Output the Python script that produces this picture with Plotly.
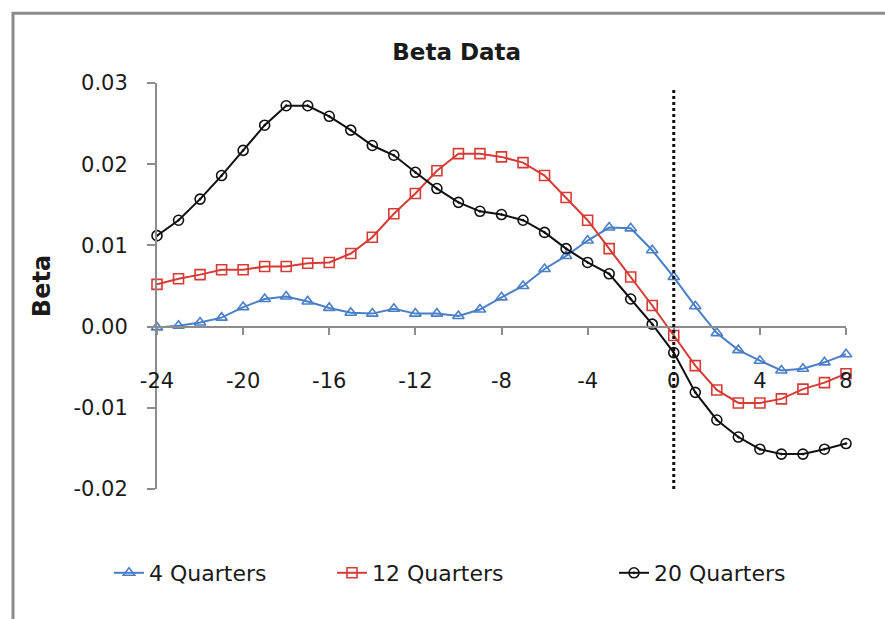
import plotly.graph_objects as go

quarters = [-24, -23, -22, -21, -20, -19, -18, -17, -16, -15, -14, -13, -12, -11, -10, -9,
            -8, -7, -6, -5, -4, -3, -2, -1, 0, 1, 2, 3, 4, 5, 6, 7, 8]

beta_4q = [-0.0001, 0.0001, 0.0005, 0.0011, 0.0024, 0.0034, 0.0037, 0.0031, 0.0023, 0.0017,
           0.0016, 0.0022, 0.0016, 0.0016, 0.0013, 0.0021, 0.0036, 0.0050, 0.0071, 0.0087,
           0.0106, 0.0122, 0.0121, 0.0094, 0.0061, 0.0025, -0.0008, -0.0029, -0.0042, -0.0054,
           -0.0052, -0.0044, -0.0034]

beta_12q = [0.0052, 0.0059, 0.0064, 0.0070, 0.0070, 0.0074, 0.0074, 0.0078, 0.0079, 0.0090,
            0.0110, 0.0139, 0.0164, 0.0192, 0.0213, 0.0213, 0.0209, 0.0202, 0.0186, 0.0159,
            0.0131, 0.0096, 0.0061, 0.0026, -0.0011, -0.0048, -0.0078, -0.0094, -0.0094, -0.0089,
            -0.0077, -0.0069, -0.0058]

beta_20q = [0.0112, 0.0131, 0.0157, 0.0186, 0.0217, 0.0248, 0.0272, 0.0272, 0.0259, 0.0242,
            0.0223, 0.0211, 0.0190, 0.0170, 0.0153, 0.0142, 0.0138, 0.0131, 0.0116, 0.0096,
            0.0079, 0.0065, 0.0034, 0.0003, -0.0032, -0.0081, -0.0115, -0.0136, -0.0151, -0.0157,
            -0.0157, -0.0151, -0.0144]

series_names = ["4 Quarters", "12 Quarters", "20 Quarters"]

x_tickvals = [-24, -20, -16, -12, -8, -4, 0, 4, 8]
x_ticktext = ["-24", "-20", "-16", "-12", "-8", "-4", "0", "4", "8"]
y_tickvals = [0.03, 0.02, 0.01, 0.0, -0.01, -0.02]
y_ticktext = ["0.03", "0.02", "0.01", "0.00", "-0.01", "-0.02"]

event_x = 0
x_range = [-24, 8]
y_range = [-0.02, 0.03]

FONT = "DejaVu Sans"
TXT = "#1A1A1A"
BLUE = "#4A7EC6"
RED = "#D63B36"
BLACK = "#111111"
AXIS = "#8C8C8C"

fig = go.Figure()

styles = [
    (beta_4q, BLUE, "triangle-up-open", "legend"),
    (beta_12q, RED, "square-open", "legend2"),
    (beta_20q, BLACK, "circle-open-dot", "legend3"),
]
for name, (vals, col, sym, lg) in zip(series_names, styles):
    fig.add_trace(go.Scatter(
        x=quarters, y=vals, name=name, mode="lines+markers",
        line=dict(color=col, width=2),
        marker=dict(symbol=sym, size=10, color=col, line=dict(color=col, width=1.6)),
        cliponaxis=False, legend=lg,
    ))

# dotted event line at quarter 0
fig.add_shape(type="line", xref="x", yref="y", x0=event_x, x1=event_x,
              y0=y_range[0], y1=0.0293,
              line=dict(color="#111111", width=3, dash="dot"))

# outer chart frame (left and top edges visible)
fig.add_shape(type="rect", xref="paper", yref="paper",
              x0=-0.209, x1=1.3, y0=-0.5, y1=1.172,
              line=dict(color="#8A8A8A", width=3), layer="below")


def legend_at(xpx):
    return dict(orientation="h", xref="container", yref="container",
                x=xpx / 885, xanchor="left", y=1 - 573 / 619, yanchor="middle",
                font=dict(family=FONT, size=22, color=TXT),
                bgcolor="rgba(0,0,0,0)")


fig.update_layout(
    width=885, height=619,
    margin=dict(l=157, r=39, t=83, b=130, autoexpand=False),
    paper_bgcolor="white", plot_bgcolor="white",
    font=dict(family=FONT, size=21, color=TXT),
    title=dict(text="<b>Beta Data</b>", x=0.516, xref="container", xanchor="center",
               y=1 - 52 / 619, yref="container", yanchor="middle",
               font=dict(family=FONT, size=23, color=TXT)),
    showlegend=True,
    legend=legend_at(109),
    legend2=legend_at(332),
    legend3=legend_at(614),
    xaxis=dict(range=x_range, anchor="free", position=0.4,
               showline=True, linecolor=AXIS, linewidth=2,
               ticks="outside", ticklen=7, tickcolor=AXIS, tickwidth=2,
               tickvals=x_tickvals, ticktext=x_ticktext,
               ticklabelstandoff=28,
               showgrid=False, zeroline=False,
               tickfont=dict(family=FONT, size=21, color=TXT)),
    yaxis=dict(range=y_range, showline=True, linecolor=AXIS, linewidth=2,
               ticks="outside", ticklen=8, tickcolor=AXIS, tickwidth=2,
               tickvals=y_tickvals, ticktext=y_ticktext,
               ticklabelstandoff=15,
               showgrid=False, zeroline=False,
               title=dict(text="<b>Beta</b>", standoff=16,
                          font=dict(family=FONT, size=24, color=TXT)),
               tickfont=dict(family=FONT, size=21, color=TXT)),
)

fig.write_html("out.html", config={"displayModeBar": False},
               post_script="document.body.style.margin='0px';")
